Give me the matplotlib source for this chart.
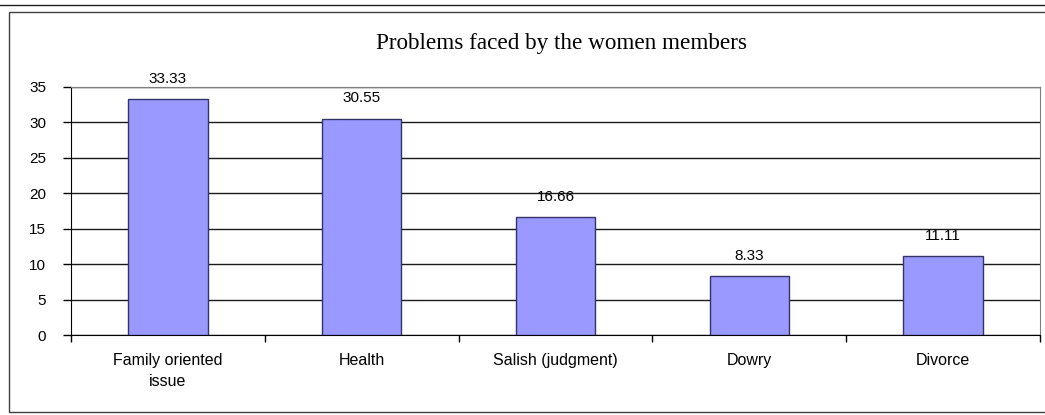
import matplotlib.pyplot as plt
from matplotlib.lines import Line2D
from matplotlib.patches import Rectangle

categories = ['Family oriented\nissue', 'Health', 'Salish (judgment)', 'Dowry', 'Divorce']
values = [33.33, 30.55, 16.66, 8.33, 11.11]
value_labels = ['33.33', '30.55', '16.66', '8.33', '11.11']
yticks = [0, 5, 10, 15, 20, 25, 30, 35]

plt.rcParams['font.family'] = ['Liberation Sans', 'DejaVu Sans']

fig = plt.figure(figsize=(10.45, 4.15), dpi=100)
ax = fig.add_axes([71 / 1045, 1 - 335 / 415, (1040 - 71) / 1045, (335 - 87) / 415])

x = range(len(categories))
bars = ax.bar(x, values, width=0.41, color='#9999ff', edgecolor='#333366', linewidth=1, zorder=3)
for b, lab in zip(bars, value_labels):
    ax.annotate(lab, (b.get_x() + b.get_width() / 2, b.get_height()),
                xytext=(0, 14.5), textcoords='offset points', ha='center', va='center', fontsize=11)

ax.set_xlim(-0.5, len(categories) - 0.5)
ax.set_ylim(0, 35)
ax.set_yticks(yticks)
ax.yaxis.grid(True, color='#1a1a1a', linewidth=1, zorder=0)
ax.set_axisbelow(True)

ax.set_xticks([i + 0.5 for i in range(-1, len(categories))])
ax.set_xticklabels([])
ax.tick_params(axis='x', length=5, width=1, direction='out')
ax.tick_params(axis='y', length=6, width=1, direction='out', labelsize=11, pad=12)
for i, c in enumerate(categories):
    ax.text(i, -2.6, c, ha='center', va='top', fontsize=11.5, linespacing=1.45)

ax.spines['left'].set_color('black')
ax.spines['bottom'].set_color('black')
ax.spines['right'].set_color('#808080')
ax.spines['top'].set_color('#808080')

fig.text(561 / 1045, 1 - 43 / 415, 'Problems faced by the women members',
         ha='center', va='center', fontsize=16.7, family=['Liberation Serif', 'DejaVu Serif'])

# chart frame
fig.add_artist(Rectangle((9 / 1045, 3 / 415), 1.0, 400 / 415, transform=fig.transFigure,
                         fill=False, edgecolor='#404040', linewidth=1))
fig.add_artist(Line2D([0, 1], [1 - 5 / 415, 1 - 5 / 415], transform=fig.transFigure,
                      color='#202020', linewidth=1))

fig.savefig('out.png', dpi=100)
